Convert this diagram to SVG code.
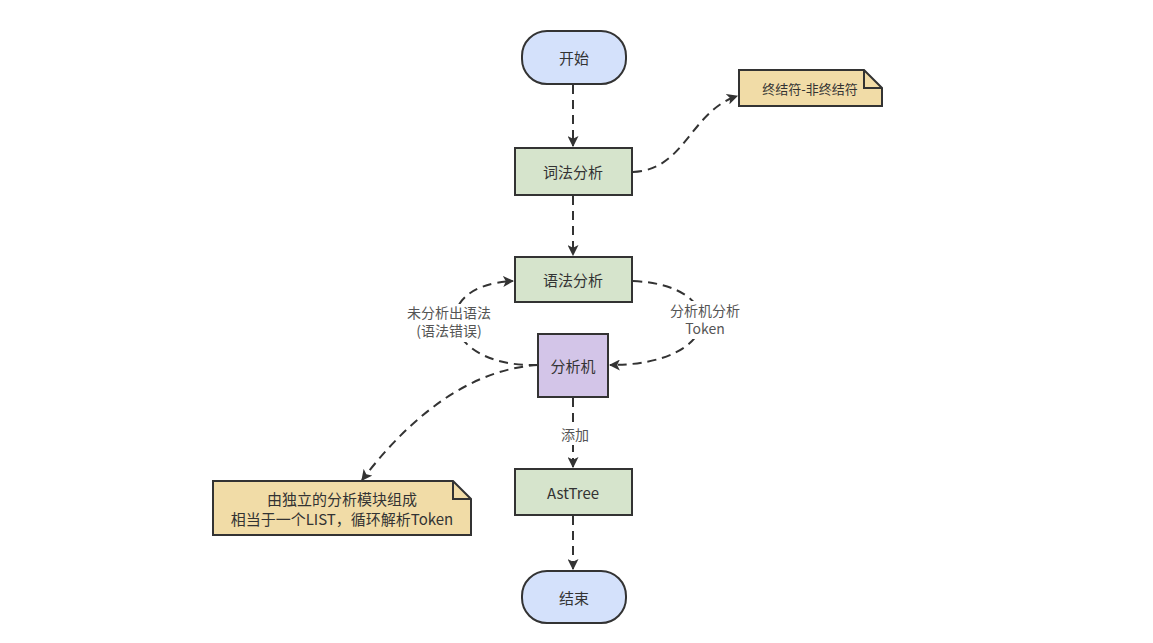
<svg xmlns="http://www.w3.org/2000/svg" width="1153" height="643" viewBox="0 0 1153 643">
<defs>
<style>
.n{stroke:#333;stroke-width:2}
.t{font-family:"Noto Sans CJK SC","Liberation Sans",sans-serif;font-size:15px;fill:#333;text-anchor:middle;dominant-baseline:central}
.l{font-family:"Noto Sans CJK SC","Liberation Sans",sans-serif;font-size:14px;fill:#555;text-anchor:middle}
.c{fill:none;stroke:#333;stroke-width:2;stroke-dasharray:9,6}
</style>
<marker id="a" viewBox="0 0 10 10" refX="9" refY="5" markerWidth="11" markerHeight="11" markerUnits="userSpaceOnUse" orient="auto">
<path d="M0,0 L10,5 L0,10 L2.5,5 Z" fill="#333"/>
</marker>
</defs>
<rect width="1153" height="643" fill="#fff"/>
<g id="connectors">
<path class="c" d="M573,85 L573,146" marker-end="url(#a)"/>
<path class="c" d="M573,196 L573,255" marker-end="url(#a)"/>
<path class="c" d="M633,172 C685,170 690,112 737,96" marker-end="url(#a)"/>
<path class="c" d="M633,281 C730,285 725,365 610,365" marker-end="url(#a)"/>
<path class="c" d="M538,365 C440,368 425,285 513,281" marker-end="url(#a)"/>
<path class="c" d="M538,365 C460,370 400,430 362,480" marker-end="url(#a)"/>
<path class="c" d="M573,398 L573,467" marker-end="url(#a)"/>
<path class="c" d="M573,516 L573,569" marker-end="url(#a)"/>
<rect x="662" y="301" width="86" height="38" fill="#fff"/>
<text class="l" x="705" y="316">分析机分析</text>
<text class="l" x="705" y="334">Token</text>
<rect x="402" y="304" width="94" height="38" fill="#fff"/>
<text class="l" x="449" y="318">未分析出语法</text>
<text class="l" x="449" y="336">(语法错误)</text>
<rect x="556" y="425" width="38" height="20" fill="#fff"/>
<text class="l" x="575" y="440">添加</text>
</g>
<g id="start"><rect class="n" x="522" y="31" width="104" height="53" rx="25" fill="#d4e1fb"/><text class="t" x="574" y="57">开始</text></g>
<g id="lexer"><rect class="n" x="515" y="148" width="117" height="47" fill="#d6e4cc"/><text class="t" x="573" y="171">词法分析</text></g>
<g id="note1"><path class="n" d="M739,70 L864,70 L882,88 L882,106 L739,106 Z" fill="#f1dca7"/><path class="n" d="M864,70 L864,88 L882,88" fill="none"/><text class="t" x="810" y="88" style="font-size:13px">终结符-非终结符</text></g>
<g id="parser"><rect class="n" x="515" y="257" width="117" height="45" fill="#d6e4cc"/><text class="t" x="573" y="279">语法分析</text></g>
<g id="machine"><rect class="n" x="538" y="334" width="70" height="63" fill="#d3c5e8"/><text class="t" x="573" y="365">分析机</text></g>
<g id="ast"><rect class="n" x="515" y="469" width="117" height="46" fill="#d6e4cc"/><text class="t" x="573" y="492">AstTree</text></g>
<g id="end"><rect class="n" x="522" y="571" width="104" height="52" rx="25" fill="#d4e1fb"/><text class="t" x="574" y="597">结束</text></g>
<g id="note2"><path class="n" d="M213,481 L453,481 L471,499 L471,535 L213,535 Z" fill="#f1dca7"/><path class="n" d="M453,481 L453,499 L471,499" fill="none"/><text class="t" x="342" y="498">由独立的分析模块组成</text><text class="t" x="342" y="518">相当于一个LIST，循环解析Token</text></g>
</svg>
